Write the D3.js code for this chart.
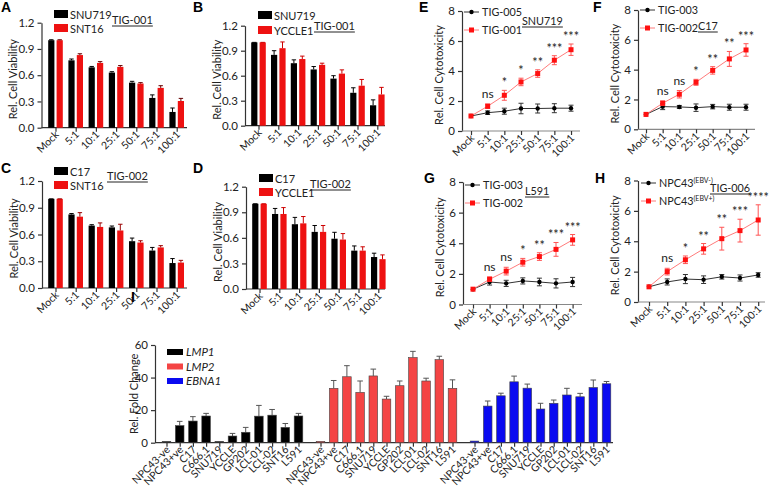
<!DOCTYPE html>
<html><head><meta charset="utf-8">
<script src="https://cdn.jsdelivr.net/npm/d3@7"></script>
<style>
body{margin:0;background:#fff}
text{font-family:Lato,"Liberation Sans",Arial,sans-serif;fill:#222}
.axis path,.axis line{stroke:#333;stroke-width:1.2}
</style>
</head><body>
<svg id="c" width="769" height="487"></svg>
<script>
// ---------- data ----------
const doses = ["Mock","5:1","10:1","25:1","50:1","75:1","100:1"];
const viabTicks = [0,0.3,0.6,0.9,1.2];
const cytoTicks = [0,2,4,6,8];

// A
const aSNU719 = [1.0,0.77,0.69,0.63,0.515,0.34,0.18];
const aSNU719Err = [0.005,0.015,0.01,0.01,0.015,0.035,0.045];
const aSNT16 = [1.0,0.83,0.74,0.695,0.505,0.455,0.305];
const aSNT16Err = [0.005,0.015,0.015,0.015,0.01,0.025,0.03];
// B
const bSNU719 = [1.0,0.85,0.75,0.675,0.565,0.395,0.245];
const bSNU719Err = [0,0.05,0.04,0.035,0.035,0.06,0.065];
const bYCCLE1 = [1.0,0.93,0.80,0.73,0.625,0.48,0.375];
const bYCCLE1Err = [0,0.075,0.035,0.02,0.045,0.075,0.085];
// C
const cC17 = [1.0,0.825,0.70,0.68,0.525,0.42,0.28];
const cC17Err = [0,0.01,0.01,0.015,0.035,0.035,0.05];
const cSNT16 = [1.0,0.80,0.685,0.645,0.51,0.455,0.285];
const cSNT16Err = [0,0.045,0.045,0.07,0.02,0.02,0.025];
// D
const dC17 = [1.0,0.88,0.76,0.67,0.59,0.45,0.375];
const dC17Err = [0,0.065,0.08,0.075,0.075,0.055,0.045];
const dYCCLE1 = [1.0,0.88,0.77,0.67,0.58,0.45,0.35];
const dYCCLE1Err = [0,0.075,0.08,0.075,0.07,0.045,0.05];

// E
const eTIG005 = [1.0,1.22,1.32,1.5,1.5,1.52,1.52];
const eTIG005Err = [0,0.12,0.2,0.35,0.3,0.3,0.2];
const eTIG001 = [1.0,1.65,2.38,3.27,3.83,4.72,5.42];
const eTIG001Err = [0,0.15,0.33,0.25,0.25,0.3,0.38];
const eSig = ["ns","*","*","**","***","***"];
// F
const fTIG003 = [1.0,1.52,1.5,1.45,1.52,1.48,1.48];
const fTIG003Err = [0,0.2,0.1,0.25,0.15,0.2,0.2];
const fTIG002 = [1.0,1.75,2.35,3.15,3.95,4.72,5.32];
const fTIG002Err = [0,0.15,0.25,0.2,0.25,0.5,0.42];
const fSig = ["ns","ns","*","**","**","***"];
// G
const gTIG003 = [1.0,1.47,1.38,1.54,1.47,1.38,1.47];
const gTIG003Err = [0,0.2,0.2,0.2,0.25,0.3,0.3];
const gTIG002 = [1.0,1.65,2.18,2.76,3.13,3.6,4.22];
const gTIG002Err = [0,0.15,0.25,0.25,0.25,0.45,0.35];
const gSig = ["ns","ns","*","**","***","***"];
// H
const hEBVneg = [1.0,1.32,1.51,1.47,1.66,1.58,1.78];
const hEBVnegErr = [0,0.2,0.3,0.25,0.15,0.2,0.15];
const hEBVpos = [1.0,2.0,2.78,3.5,4.17,4.7,5.4];
const hEBVposErr = [0,0.22,0.25,0.35,0.75,0.75,1.0];
const hSig = ["ns","*","**","**","***","****"];

// I
const cellLines = ["NPC43-ve","NPC43+ve","C17","C666.1","SNU719","YCCLE","GP202","LCL-01","LCL-02","SNT16","L591"];
const genes = ["LMP1","LMP2","EBNA1"];
const lmp1 = [0.8,10.5,13.3,16.4,0.8,4.1,6.4,16.3,16.9,9.4,16.4];
const lmp1Err = [0,2.6,2.7,1.6,0,1.6,3.0,6.6,3.5,2.4,1.6];
const lmp2 = [0.8,33.4,40.5,30.9,41.0,26.8,35.0,52.3,37.9,51.0,33.4];
const lmp2Err = [0,4.8,6.8,7.0,4.2,1.7,2.9,3.8,1.7,2.1,5.2];
const ebna1 = [1.0,22.5,28.8,37.4,33.5,20.7,24.2,29.3,28.2,33.9,36.2];
const ebna1Err = [0,3.1,1.6,3.5,2.5,3.5,2.0,4.1,2.1,4.6,1.4];
const foldTicks = [0,20,40,60];

// ---------- drawing ----------
const svg = d3.select("#c");
const RED = "#ee1111", BLK = "#000";

function panelLetter(t,x,y){
  svg.append("text").attr("x",x).attr("y",y).text(t)
    .style("font-family","'Liberation Sans',Arial,sans-serif")
    .style("font-weight","bold").style("font-size","14px").style("fill","#000");
}
function underlined(t,x,y,size){
  const tx = svg.append("text").attr("x",x).attr("y",y).text(t).style("font-size",size+"px");
  const w = tx.node().getComputedTextLength();
  svg.append("line").attr("x1",x).attr("x2",x+w).attr("y1",y+2).attr("y2",y+2)
    .attr("stroke","#222").attr("stroke-width",1);
}
function yTitle(t,x,yc){
  svg.append("text").attr("transform",`translate(${x},${yc}) rotate(-90)`)
    .attr("text-anchor","middle").attr("dy","0.35em").text(t).style("font-size","11px");
}
function rotLabels(sel){
  sel.selectAll(".tick text").attr("transform","translate(1,5) rotate(-45)")
    .attr("x",0).attr("y",0).attr("dy","0.35em").style("text-anchor","end")
    .style("font-size","10.5px");
}

function barPanel(p){
  const y = d3.scaleLinear().domain([0,1.2]).range([p.y0,p.y1]);
  const x = d3.scalePoint().domain(doses).range([p.c0,p.c0+p.step*6]);
  const ya = svg.append("g").attr("class","axis").attr("transform",`translate(${p.ax},0)`)
    .call(d3.axisLeft(y).tickValues(viabTicks).tickFormat(d3.format(".1f")).tickSize(4).tickSizeOuter(0));
  ya.selectAll("text").style("font-size","11.5px");
  const xa = svg.append("g").attr("class","axis").attr("transform",`translate(0,${p.y0})`)
    .call(d3.axisBottom(x).tickSize(4).tickSizeOuter(0));
  xa.select(".domain").attr("d",`M${p.ax},0H${p.axEnd}`);
  rotLabels(xa);
  const bw = 6.2;
  p.series.forEach((s,si)=>{
    const off = si===0 ? -4.2 : 4.2;
    const g = svg.append("g");
    g.selectAll("rect").data(s.vals).join("rect")
      .attr("x",(d,i)=>x(doses[i])+off-bw/2).attr("width",bw)
      .attr("y",d=>y(d)).attr("height",d=>p.y0-y(d)).attr("fill",s.color);
    g.selectAll("path.err").data(s.vals).join("path").attr("class","err")
      .attr("d",(d,i)=>{const cx=x(doses[i])+off, y1=y(d), y2=y(d+s.errs[i]);
        return `M${cx},${y1}V${y2}M${cx-2.2},${y2}H${cx+2.2}`;})
      .attr("stroke",s.ecolor).attr("stroke-width",1).attr("fill","none");
  });
  // legend
  p.series.forEach((s,si)=>{
    const ly = p.leg[1]+si*p.legGap;
    svg.append("rect").attr("x",p.leg[0]).attr("y",ly-5).attr("width",14).attr("height",8).attr("fill",s.color);
    svg.append("text").attr("x",p.leg[0]+16).attr("y",ly+3.5).text(s.name).style("font-size","11px");
  });
  underlined(p.tig,p.tigPos[0],p.tigPos[1],11);
  yTitle("Rel. Cell Viability",p.ax-28,(p.y0+p.y1)/2+4);
}

function linePanel(p){
  const y = d3.scaleLinear().domain([0,8]).range([p.y0,p.y8]);
  const x = d3.scalePoint().domain(doses).range([p.c0,p.c0+p.step*6]);
  const ya = svg.append("g").attr("class","axis").attr("transform",`translate(${p.ax},0)`)
    .call(d3.axisLeft(y).tickValues(cytoTicks).tickFormat(d3.format("d")).tickSize(4).tickSizeOuter(0));
  ya.selectAll("text").style("font-size","11.5px");
  const xa = svg.append("g").attr("class","axis").attr("transform",`translate(0,${p.y0})`)
    .call(d3.axisBottom(x).tickSize(4).tickSizeOuter(0));
  xa.select(".domain").attr("d",`M${p.ax},0H${p.axEnd}`).style("stroke","#888");
  rotLabels(xa);
  const line = d3.line().x((d,i)=>x(doses[i])).y(d=>y(d));
  const sers = [
    {vals:p.blk,errs:p.blkErr,lc:"#333",ec:"#333",mc:"#000",shape:"c"},
    {vals:p.red,errs:p.redErr,lc:"#ff7b7b",ec:"#f55",mc:"#ff1010",shape:"s"}
  ];
  sers.forEach(s=>{
    svg.append("path").datum(s.vals).attr("d",line).attr("fill","none").attr("stroke",s.lc).attr("stroke-width",1);
    svg.append("g").selectAll("path").data(s.vals).join("path")
      .attr("d",(d,i)=>{ if(!s.errs[i]) return ""; const cx=x(doses[i]), a=y(d+s.errs[i]), b=y(d-s.errs[i]);
        return `M${cx},${a}V${b}M${cx-2.5},${a}H${cx+2.5}M${cx-2.5},${b}H${cx+2.5}`;})
      .attr("stroke",s.ec).attr("stroke-width",1).attr("fill","none");
    const m = svg.append("g");
    if(s.shape==="c"){
      m.selectAll("circle").data(s.vals).join("circle").attr("cx",(d,i)=>x(doses[i])).attr("cy",d=>y(d)).attr("r",2.2).attr("fill",s.mc);
    } else {
      m.selectAll("rect").data(s.vals).join("rect").attr("x",(d,i)=>x(doses[i])-2.5).attr("y",d=>y(d)-2.5)
        .attr("width",5).attr("height",5).attr("fill",s.mc);
    }
  });
  // significance
  svg.append("g").selectAll("text").data(p.sig).join("text")
    .attr("x",(d,i)=>x(doses[i+1])).attr("y",(d,i)=>y(p.red[i+1]+p.redErr[i+1])-(d==="ns"?6:3))
    .attr("text-anchor","middle").text(d=>d).style("font-size",d=>d==="ns"?"12px":"12.5px");
  // legend
  const L = p.leg;
  [[0,"#333","#000","c"],[1,"#ff7b7b","#ff1010","s"]].forEach(([k,lc,mc,sh])=>{
    const ly = L[1]+k*L[2];
    svg.append("line").attr("x1",L[0]).attr("x2",L[0]+15).attr("y1",ly).attr("y2",ly).attr("stroke",lc).attr("stroke-width",1);
    if(sh==="c") svg.append("circle").attr("cx",L[0]+7.5).attr("cy",ly).attr("r",2.2).attr("fill",mc);
    else svg.append("rect").attr("x",L[0]+5).attr("y",ly-2.5).attr("width",5).attr("height",5).attr("fill",mc);
    const t = svg.append("text").attr("x",L[0]+18).attr("y",ly+4).style("font-size","10.8px");
    const nm = p.names[k];
    if(Array.isArray(nm)){
      t.append("tspan").text(nm[0]);
      t.append("tspan").attr("dy",-4).style("font-size","7px").text(nm[1]);
    } else t.text(nm);
  });
  underlined(p.cell,p.cellPos[0],p.cellPos[1],10.8);
  yTitle("Rel. Cell Cytotoxicity",p.ax-23,(p.y0+p.y8)/2+4);
}

// Panels A-D
panelLetter("A",1,12);
barPanel({ax:41.5,axEnd:187,y0:127.7,y1:22.7,c0:55.5,step:20.2,
  series:[{name:"SNU719",vals:aSNU719,errs:aSNU719Err,color:BLK,ecolor:"#000"},
          {name:"SNT16",vals:aSNT16,errs:aSNT16Err,color:RED,ecolor:"#600"}],
  leg:[54,15],legGap:14,tig:"TIG-001",tigPos:[112,24]});
panelLetter("B",193,12);
barPanel({ax:245,axEnd:385,y0:125.7,y1:25.7,c0:258.5,step:19.8,
  series:[{name:"SNU719",vals:bSNU719,errs:bSNU719Err,color:BLK,ecolor:"#000"},
          {name:"YCCLE1",vals:bYCCLE1,errs:bYCCLE1Err,color:RED,ecolor:"#c00"}],
  leg:[258,16],legGap:15,tig:"TIG-001",tigPos:[314,30]});
panelLetter("C",1,173);
barPanel({ax:42,axEnd:187,y0:288,y1:181,c0:55.5,step:20.2,
  series:[{name:"C17",vals:cC17,errs:cC17Err,color:BLK,ecolor:"#000"},
          {name:"SNT16",vals:cSNT16,errs:cSNT16Err,color:RED,ecolor:"#900"}],
  leg:[54,172],legGap:14,tig:"TIG-002",tigPos:[107,180]});
panelLetter("D",193,173);
barPanel({ax:246,axEnd:385,y0:289,y1:186.7,c0:259.5,step:19.8,
  series:[{name:"C17",vals:dC17,errs:dC17Err,color:BLK,ecolor:"#000"},
          {name:"YCCLE1",vals:dYCCLE1,errs:dYCCLE1Err,color:RED,ecolor:"#c00"}],
  leg:[259,179],legGap:14,tig:"TIG-002",tigPos:[310,188]});

// Panels E-H
panelLetter("E",419,12);
linePanel({ax:462,axEnd:580,y0:131,y8:11,c0:471,step:16.67,blk:eTIG005,blkErr:eTIG005Err,red:eTIG001,redErr:eTIG001Err,
  sig:eSig,leg:[464,12,18],names:["TIG-005","TIG-001"],cell:"SNU719",cellPos:[522,25]});
panelLetter("F",593,12);
linePanel({ax:638,axEnd:755,y0:129.3,y8:10,c0:646,step:16.67,blk:fTIG003,blkErr:fTIG003Err,red:fTIG002,redErr:fTIG002Err,
  sig:fSig,leg:[640,10,18],names:["TIG-003","TIG-002"],cell:"C17",cellPos:[698,30]});
panelLetter("G",424,183);
linePanel({ax:463,axEnd:582,y0:304.5,y8:182,c0:473,step:16.6,blk:gTIG003,blkErr:gTIG003Err,red:gTIG002,redErr:gTIG002Err,
  sig:gSig,leg:[465,185,18],names:["TIG-003","TIG-002"],cell:"L591",cellPos:[525,195]});
panelLetter("H",595,183);
linePanel({ax:638,axEnd:765,y0:302,y8:180.5,c0:649,step:18.2,blk:hEBVneg,blkErr:hEBVnegErr,red:hEBVpos,redErr:hEBVposErr,
  sig:hSig,leg:[641,183,18],names:[["NPC43","(EBV-)"],["NPC43","(EBV+)"]],cell:"TIG-006",cellPos:[710,192]});

// Panel I
panelLetter("I",131,302);
(function(){
  const y0 = 442.7, y60 = 345;
  const y = d3.scaleLinear().domain([0,60]).range([y0,y60]);
  const gap = 0.667, stepPx = 13.2, start = 166.5;
  const keys = [], pos = [];
  genes.forEach((g,gi)=>cellLines.forEach((c,ci)=>{ keys.push(g+"|"+c); pos.push(start+(gi*11+ci+gi*gap)*stepPx); }));
  const x = d3.scaleOrdinal().domain(keys).range(pos);
  const ya = svg.append("g").attr("class","axis").attr("transform","translate(155,0)")
    .call(d3.axisLeft(y).tickValues(foldTicks).tickSize(4).tickSizeOuter(0));
  ya.selectAll("text").style("font-size","11.5px");
  const xa = svg.append("g").attr("class","axis").attr("transform",`translate(0,${y0})`)
    .call(d3.axisBottom(x).tickSize(4).tickSizeOuter(0).tickFormat(d=>d.split("|")[1]));
  xa.select(".domain").attr("d","M155,0H613");
  rotLabels(xa);
  const series = [
    {g:"LMP1",vals:lmp1,errs:lmp1Err,color:"#000"},
    {g:"LMP2",vals:lmp2,errs:lmp2Err,color:"#f44444"},
    {g:"EBNA1",vals:ebna1,errs:ebna1Err,color:"#0a0af0"}
  ];
  const bw = 8.6;
  series.forEach(s=>{
    const g = svg.append("g");
    g.selectAll("path.e").data(s.vals).join("path").attr("class","e")
      .attr("d",(d,i)=>{ const cx=x(s.g+"|"+cellLines[i]), a=y(d), b=y(d+s.errs[i]);
        return s.errs[i] ? `M${cx},${a}V${b}M${cx-2.8},${b}H${cx+2.8}` : ""; })
      .attr("stroke","#555").attr("stroke-width",1).attr("fill","none");
    g.selectAll("rect").data(s.vals).join("rect")
      .attr("x",(d,i)=>x(s.g+"|"+cellLines[i])-bw/2).attr("width",bw)
      .attr("y",d=>y(d)).attr("height",d=>y0-y(d))
      .attr("fill",s.color).attr("stroke","#444").attr("stroke-width",0.6);
  });
  series.forEach((s,k)=>{
    const ly = 352 + k*14.5;
    svg.append("rect").attr("x",167).attr("y",ly-3).attr("width",16).attr("height",6).attr("fill",s.color);
    svg.append("text").attr("x",186).attr("y",ly+4).text(s.g).style("font-size","11.5px").style("font-style","italic");
  });
  yTitle("Rel. Fold Change",134,(y0+y60)/2);
})();
</script>
</body></html>
